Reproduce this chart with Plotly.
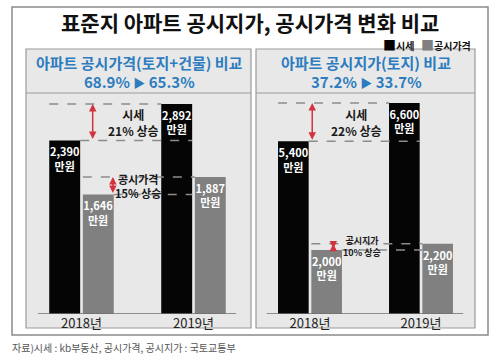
import plotly.graph_objects as go

W, H = 500, 362
FONT = "Noto Sans CJK KR"

# ---- data ----
years = ["2018년", "2019년"]
left_market = [2390, 2892]      # 시세 (아파트 공시가격 비교)
left_official = [1646, 1887]    # 공시가격
right_market = [5400, 6600]     # 시세 (공시지가 비교)
right_official = [2000, 2200]   # 공시지가
left_ratio = ["68.9%", "65.3%"]
right_ratio = ["37.2%", "33.7%"]
left_rise = ["시세<br>21% 상승", "공시가격<br>15% 상승"]
right_rise = ["시세<br>22% 상승", "공시지가<br>10% 상승"]

BLACK = "#050505"
GRAY = "#808080"
BLUE = "#2c7cbf"
RED = "#d3323f"
PANEL = "#e8e8e8"
BORDER = "#9a9a9a"

BARGAP = 0.4
GROUPGAP = 0.08
SLOT = (1 - BARGAP) / 2
HALF = SLOT * (1 - GROUPGAP) / 2
B_L, B_R = -SLOT / 2 - HALF, -SLOT / 2 + HALF
G_L, G_R = SLOT / 2 - HALF, SLOT / 2 + HALF


def px(x):
    return x / W


def py(y):
    return 1 - y / H


def lbl(vals):
    return [f"<b>{v:,}<br>만원</b>" for v in vals]


fig = go.Figure()
for xa, ya, m, o in [("x", "y", left_market, left_official),
                     ("x2", "y2", right_market, right_official)]:
    fig.add_trace(go.Bar(x=years, y=m, marker=dict(color=BLACK, line=dict(width=0)),
                         text=lbl(m), textposition="inside", insidetextanchor="end",
                         textangle=0, textfont=dict(color="white", size=11, family=FONT),
                         xaxis=xa, yaxis=ya, showlegend=False, name="시세"))
    fig.add_trace(go.Bar(x=years, y=o, marker=dict(color=GRAY, line=dict(width=0)),
                         text=lbl(o), textposition="inside", insidetextanchor="end",
                         textangle=0, textfont=dict(color="white", size=11, family=FONT),
                         xaxis=xa, yaxis=ya, showlegend=False, name="공시"))

shapes = []
annotations = []

shapes.append(dict(type="rect", xref="paper", yref="paper", x0=px(12), x1=px(488),
                   y0=py(335), y1=py(7), line=dict(color="#8a8a8a", width=1.5),
                   fillcolor="white", layer="below"))
for x0, x1 in [(26, 251), (256, 475)]:
    shapes.append(dict(type="rect", xref="paper", yref="paper", x0=px(x0), x1=px(x1),
                       y0=py(328), y1=py(49), line=dict(color=BORDER, width=1.2),
                       fillcolor=PANEL, layer="below"))
    shapes.append(dict(type="line", xref="paper", yref="paper", x0=px(x0), x1=px(x1),
                       y0=py(93), y1=py(93), line=dict(color=BORDER, width=1.2), layer="below"))

for xr, yr in [("x", "y"), ("x2", "y2")]:
    shapes.append(dict(type="line", xref=xr, yref=yr, x0=-0.39, x1=1.38, y0=0, y1=0,
                       line=dict(color="#6f6f6f", width=1.5), layer="above"))

DASH = dict(color="#8c8c8c", width=1.5, dash="dash")


def dline(xr, yr, x0, x1, y):
    shapes.append(dict(type="line", xref=xr, yref=yr, x0=x0, x1=x1, y0=y, y1=y,
                       line=DASH, layer="above"))


def arrow(xr, yr, x, y0, y1):
    annotations.append(dict(xref=xr, yref=yr, axref=xr, ayref=yr, x=x, y=y1, ax=x, ay=y0,
                            text="", showarrow=True, arrowhead=2, arrowside="end+start",
                            arrowsize=1, arrowwidth=1.5, arrowcolor=RED))


def note(xr, yr, x, y, text, size):
    annotations.append(dict(xref=xr, yref=yr, x=x, y=y, xanchor="center", yanchor="middle",
                            text=f"<b>{text}</b>", showarrow=False,
                            font=dict(family=FONT, size=size, color="#1a1a1a")))


# left panel comparisons
dline("x", "y", B_L, 1 + B_L, left_market[1])
dline("x", "y", B_R, 1 + B_R, left_market[0])
dline("x", "y", G_L, 1 + G_L, left_official[1])
dline("x", "y", G_R, 1 + B_R, left_official[0])
arrow("x", "y", 0.10, left_market[0], left_market[1])
arrow("x", "y", 0.28, left_official[0], left_official[1])
note("x", "y", 0.46, (left_market[0] + left_market[1]) / 2, left_rise[0], 12)
note("x", "y", 0.50, (left_official[0] + left_official[1]) / 2, left_rise[1], 11)

# right panel comparisons
dline("x2", "y2", B_L, 1 + B_L, right_market[1])
dline("x2", "y2", B_R, 1 + B_R, right_market[0])
dline("x2", "y2", G_L, 1 + G_L, right_official[1])
dline("x2", "y2", G_R, 1 + G_L, right_official[0])
arrow("x2", "y2", 0.02, right_market[0], right_market[1])
arrow("x2", "y2", 0.21, right_official[0], right_official[1])
note("x2", "y2", 0.42, (right_market[0] + right_market[1]) / 2, right_rise[0], 12)
note("x2", "y2", 0.47, (right_official[0] + right_official[1]) / 2, right_rise[1], 9)

# title
annotations.append(dict(xref="paper", yref="paper", x=0.5, y=py(22), xanchor="center", yanchor="middle",
                        text="<b>표준지 아파트 공시지가, 공시가격 변화 비교</b>", showarrow=False,
                        font=dict(family=FONT, size=21, color="#111")))
# legend
annotations.append(dict(xref="paper", yref="paper", x=px(381), y=py(44), xanchor="left", yanchor="middle",
                        text=f"<span style='color:{BLACK};font-size:13px'>■</span><b>시세</b>", showarrow=False,
                        font=dict(family=FONT, size=10, color="#111")))
annotations.append(dict(xref="paper", yref="paper", x=px(419), y=py(44), xanchor="left", yanchor="middle",
                        text=f"<span style='color:{GRAY};font-size:13px'>■</span><b>공시가격</b>", showarrow=False,
                        font=dict(family=FONT, size=10, color="#111")))
# panel headers
for cx, t1, r in [(139, "아파트 공시가격(토지+건물) 비교", left_ratio), (366, "아파트 공시지가(토지) 비교", right_ratio)]:
    annotations.append(dict(xref="paper", yref="paper", x=px(cx), y=py(62), xanchor="center", yanchor="middle",
                            text=f"<b>{t1}</b>", showarrow=False,
                            font=dict(family=FONT, size=15, color=BLUE)))
    annotations.append(dict(xref="paper", yref="paper", x=px(cx), y=py(82), xanchor="center", yanchor="middle",
                            text=f"<b>{r[0]} <span style='font-size:12px'>▶</span> {r[1]}</b>", showarrow=False,
                            font=dict(family=FONT, size=15, color=BLUE)))
# footer
annotations.append(dict(xref="paper", yref="paper", x=px(10), y=py(347), xanchor="left", yanchor="middle",
                        text="자료)시세 : kb부동산, 공시가격, 공시지가 : 국토교통부", showarrow=False,
                        font=dict(family=FONT, size=10, color="#555")))

YDOM = [py(314), py(93)]
axx = dict(type="category", range=[-0.5, 1.5], showgrid=False, zeroline=False, showline=False,
           ticks="", tickfont=dict(family=FONT, size=13, color="#222"), fixedrange=True)
axy = dict(showgrid=False, zeroline=False, showline=False, showticklabels=False, ticks="",
           domain=YDOM, fixedrange=True)

fig.update_layout(
    width=W, height=H, margin=dict(l=0, r=0, t=0, b=0),
    paper_bgcolor="white", plot_bgcolor="rgba(0,0,0,0)",
    barmode="group", bargap=BARGAP, bargroupgap=GROUPGAP,
    uniformtext=dict(mode="show", minsize=11),
    xaxis=dict(axx, domain=[px(25.5), px(249.5)], anchor="y"),
    xaxis2=dict(axx, domain=[px(254.5), px(476.5)], anchor="y2"),
    yaxis=dict(axy, range=[0, left_market[1] * 221 / 210], anchor="x"),
    yaxis2=dict(axy, range=[0, right_market[1] * 221 / 211], anchor="x2"),
    shapes=shapes, annotations=annotations,
    font=dict(family=FONT),
)

fig.write_html("out.html", config={"displayModeBar": False},
               post_script="document.body.style.margin='0';document.body.style.overflow='hidden';")
